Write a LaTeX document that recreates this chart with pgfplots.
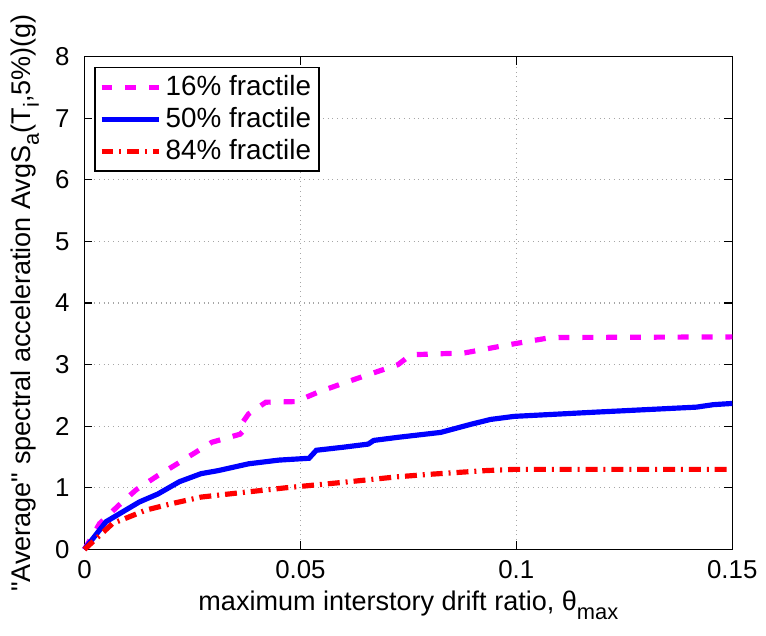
\documentclass[border=0pt]{standalone}
\usepackage{pgfplots}
\pgfplotsset{compat=1.18}
\usepackage{fontspec}
\setmainfont{Liberation Sans}
\definecolor{mag}{RGB}{255,0,255}
\definecolor{blu}{RGB}{0,0,255}
\definecolor{rd}{RGB}{255,0,0}
\begin{document}
\fontsize{13pt}{15pt}\selectfont
\begin{tikzpicture}
\begin{axis}[
  scale only axis,
  width=326pt, height=248pt,
  xmin=0, xmax=0.15, ymin=0, ymax=8,
  xtick={0,0.05,0.1,0.15},
  xticklabels={0,0.05,0.1,0.15},
  ytick={0,1,2,3,4,5,6,7,8},
  scaled x ticks=false,
  /pgf/number format/assume math mode=true,
  tick align=inside,
  tick pos=both,
  major tick length=4pt,
  grid=major,
  major grid style={dotted, gray!70, line width=0.6pt},
  axis line style={black, line width=0.6pt},
  every tick/.style={black, line width=0.6pt},
  tick label style={font=\fontsize{13pt}{14pt}\selectfont},
  xticklabel style={yshift=-1pt},
  yticklabel style={xshift=-3pt},
  xlabel={maximum interstory drift ratio, θ\raisebox{-0.6ex}{\fontsize{11pt}{12pt}\selectfont max}},
  ylabel={\textquotedbl Average\textquotedbl{} spectral acceleration AvgS\raisebox{-0.6ex}{\fontsize{11pt}{12pt}\selectfont a}(T\raisebox{-0.6ex}{\fontsize{11pt}{12pt}\selectfont i},5\%)(g)},
  label style={font=\fontsize{13.6pt}{15pt}\selectfont},
  xlabel style={at={(axis description cs:0.5,0)}, anchor=center, yshift=-28pt},
  ylabel style={at={(axis description cs:0,0.5)}, anchor=center, yshift=30pt},
  legend style={at={(rel axis cs:0,1)}, anchor=north west, xshift=5pt, yshift=-5pt,
    draw=black, line width=0.6pt, font=\fontsize{14pt}{15pt}\selectfont,
    row sep=0pt, inner sep=2pt},
  legend cell align=left,
  legend image code/.code={\draw[#1] (0pt,0pt) -- (29pt,0pt);},
  clip=false,
]
\addplot[mag, line width=2.6pt, dash pattern=on 5.5pt off 6.5pt] coordinates {
(0,0) (0.0035,0.42) (0.008,0.72) (0.012,0.97) (0.017,1.2) (0.021,1.37) (0.0295,1.74)
(0.036,1.87) (0.0372,1.95) (0.0365,2.05) (0.038,2.2) (0.042,2.39) (0.049,2.4)
(0.054,2.55) (0.060,2.7) (0.065,2.82) (0.0726,3.0) (0.0756,3.16) (0.088,3.19)
(0.098,3.32) (0.108,3.44) (0.15,3.45)};
\addlegendentry{16\% fractile}
\addplot[blu, line width=2.6pt] coordinates {
(0,0) (0.005,0.45) (0.0127,0.77) (0.017,0.9) (0.022,1.1) (0.027,1.23) (0.031,1.28)
(0.038,1.39) (0.045,1.45) (0.052,1.48) (0.0537,1.61) (0.060,1.66) (0.0657,1.71)
(0.067,1.77) (0.0726,1.82) (0.0825,1.9) (0.0894,2.03) (0.094,2.11) (0.0995,2.16)
(0.1187,2.23) (0.1417,2.31) (0.1456,2.35) (0.15,2.37)};
\addlegendentry{50\% fractile}
\addplot[rd, line width=2.6pt, dash pattern=on 6pt off 3pt on 1pt off 3pt] coordinates {
(0,0) (0.0065,0.42) (0.0143,0.64) (0.02,0.74) (0.027,0.85) (0.0334,0.9) (0.0465,1.0)
(0.06,1.09) (0.0726,1.18) (0.080,1.22) (0.093,1.28) (0.0995,1.3) (0.15,1.3)};
\addlegendentry{84\% fractile}
\coordinate (SW) at (rel axis cs:0,0);
\coordinate (NE) at (rel axis cs:1,1);
\end{axis}
\path (SW) ++(-42.5pt,-43.5pt) rectangle ([shift={(14.5pt,28.5pt)}]NE);
\end{tikzpicture}
\end{document}
